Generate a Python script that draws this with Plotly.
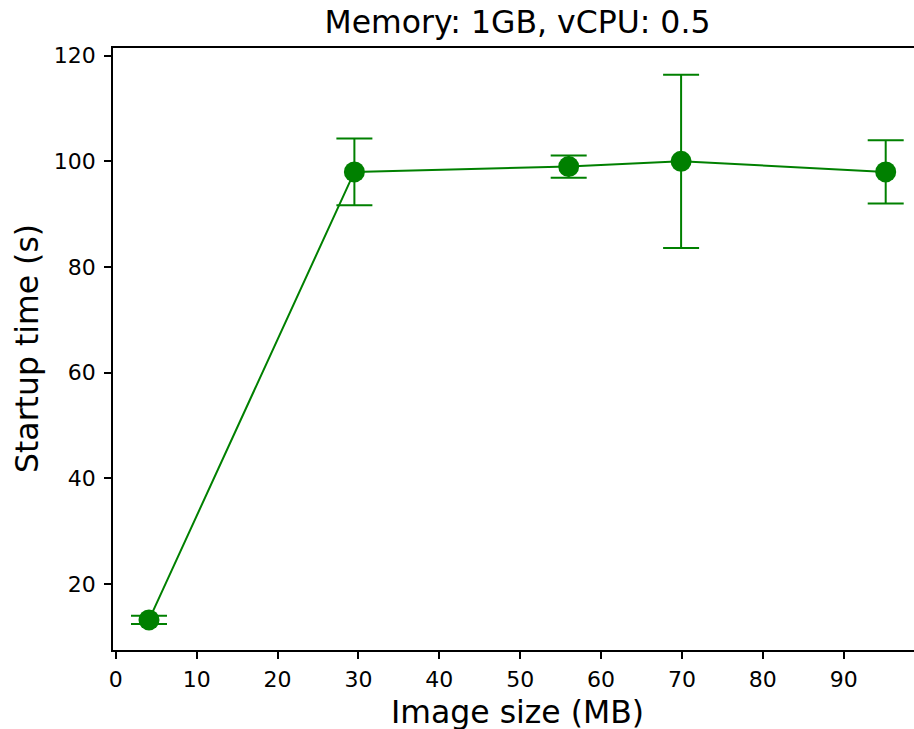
import plotly.graph_objects as go

# Startup time measurements per container image size
image_size_mb = [4.1, 29.5, 56.0, 69.9, 95.2]
startup_time_s = [13.2, 98.0, 99.0, 100.0, 98.0]
startup_err_s = [0.8, 6.3, 2.1, 16.4, 6.0]

W, H = 914, 729
L, R, T, B = 113, 0, 48, 79
FONT = "DejaVu Sans"
GREEN = "#008000"

fig = go.Figure()
fig.add_trace(go.Scatter(
    x=image_size_mb,
    y=startup_time_s,
    mode="lines+markers",
    line=dict(color=GREEN, width=2),
    marker=dict(color=GREEN, size=21),
    error_y=dict(type="data", array=startup_err_s, visible=True,
                 color=GREEN, thickness=2, width=18),
    showlegend=False,
))

axis_common = dict(
    showgrid=False, zeroline=False,
    showline=True, linecolor="black", linewidth=1.7,
    ticks="outside", ticklen=7, tickwidth=1.6, tickcolor="black",
    tickfont=dict(family=FONT, size=22, color="black"),
)

fig.update_xaxes(range=[-0.35, 98.7], tickvals=list(range(0, 100, 10)),
                 mirror=True, ticklabelstandoff=2, **axis_common)
fig.update_yaxes(range=[7.5, 121.45], tickvals=[20, 40, 60, 80, 100, 120],
                 mirror=False, ticklabelstandoff=4, **axis_common)

pw = W - L - R
ph = H - T - B
fig.update_layout(
    width=W, height=H,
    margin=dict(l=L, r=R, t=T, b=B, pad=0),
    plot_bgcolor="white", paper_bgcolor="white",
    font=dict(family=FONT, color="black"),
    title=dict(text="Memory: 1GB, vCPU: 0.5", font=dict(family=FONT, size=31.5, color="black"),
               xref="container", yref="container",
               x=517.5 / W, y=1 - 22 / H, xanchor="center", yanchor="middle"),
    annotations=[
        dict(text="Image size (MB)", xref="paper", yref="paper",
             x=(517 - L) / pw, y=-(712 - (T + ph)) / ph,
             xanchor="center", yanchor="middle", showarrow=False,
             font=dict(family=FONT, size=31.5, color="black")),
        dict(text="Startup time (s)", xref="paper", yref="paper",
             x=(27 - L) / pw, y=0.5, textangle=-90,
             xanchor="center", yanchor="middle", showarrow=False,
             font=dict(family=FONT, size=31.5, color="black")),
    ],
)

fig.write_html("out.html")
